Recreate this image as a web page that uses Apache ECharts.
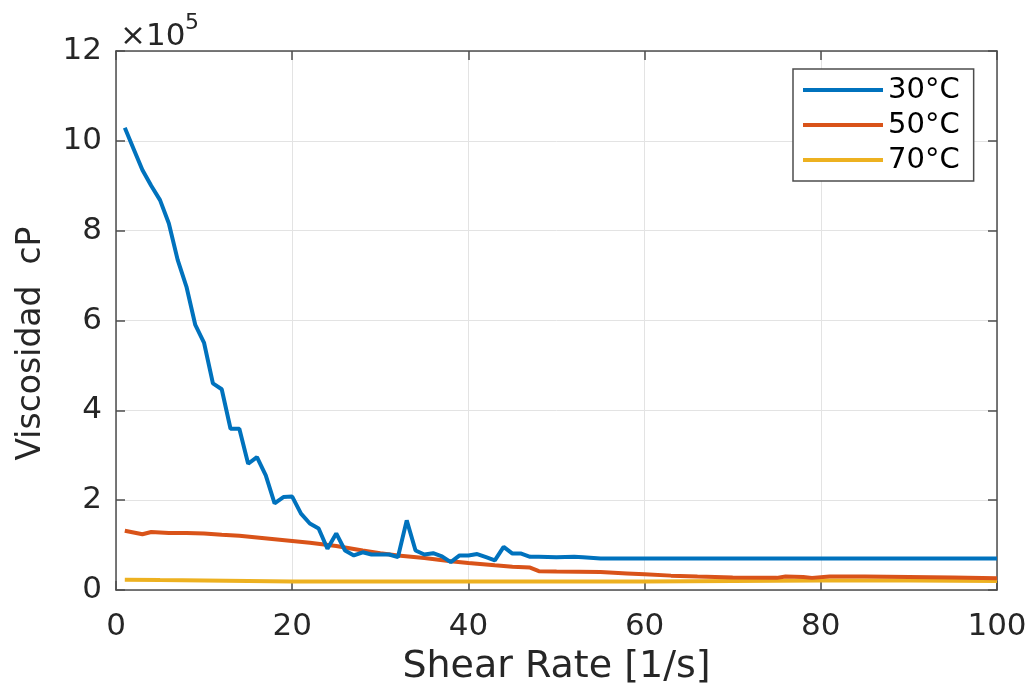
<!DOCTYPE html>
<html>
<head>
<meta charset="utf-8">
<script src="https://cdn.jsdelivr.net/npm/echarts@6/dist/echarts.min.js"></script>
<style>
html,body{margin:0;padding:0;background:#fff;}
#chart{width:1029px;height:685px;}
</style>
</head>
<body>
<div id="chart"></div>
<script>
// Values in units of 10^5 cP
var seriesNames = ['30°C', '50°C', '70°C'];
var x30 = [1,2,3,4,5,6,7,8,9,10,11,12,13,14,15,16,17,18,19,20,21,22,23,24,25,26,27,28,29,30,31,32,33,34,35,36,37,38,39,40,41,42,43,44,45,46,47,48,50,52,53,55,60,70,80,90,100];
var y30 = [10.29,9.82,9.35,9.0,8.68,8.16,7.35,6.75,5.90,5.50,4.60,4.47,3.59,3.59,2.81,2.96,2.55,1.93,2.07,2.08,1.70,1.48,1.37,0.92,1.26,0.88,0.77,0.84,0.79,0.79,0.79,0.73,1.55,0.88,0.79,0.82,0.75,0.62,0.77,0.77,0.80,0.73,0.66,0.96,0.81,0.81,0.74,0.74,0.73,0.74,0.73,0.70,0.70,0.70,0.70,0.70,0.70];
var x50 = [1,3,4,6,8,10,12,14,16,18,20,22,25,28,30,32,35,38,40,43,45,47,48,50,55,58,60,63,66,70,75,76,78,79,81,85,90,95,100];
var y50 = [1.32,1.24,1.29,1.27,1.27,1.26,1.23,1.21,1.17,1.13,1.09,1.05,0.98,0.88,0.82,0.77,0.71,0.64,0.60,0.55,0.52,0.50,0.42,0.41,0.40,0.37,0.35,0.32,0.30,0.28,0.27,0.30,0.29,0.27,0.30,0.30,0.29,0.28,0.26];
var x70 = [1,5,10,20,30,40,50,60,70,80,90,100];
var y70 = [0.23,0.22,0.21,0.19,0.19,0.19,0.19,0.19,0.20,0.21,0.21,0.20];
var xTicks = [0,20,40,60,80,100];
var yTicks = [0,2,4,6,8,10,12];
var xLabel = 'Shear Rate [1/s]';
var yLabel = 'Viscosidad  cP';
var exponentText = '×10';
var exponentSup = '5';

function pairs(xs, ys){ return xs.map(function(x,i){ return [x, ys[i]]; }); }

var FONT = 'DejaVu Sans';
var TXT = '#262626';
var AX = '#4d4d4d';
var colors = ['#0072BD', '#D95319', '#EDB120'];

var chart = echarts.init(document.getElementById('chart'), null, {renderer:'canvas'});
var axisCommon = {
  type: 'value',
  axisLine: {show: true, onZero: false, lineStyle: {color: AX, width: 1.5}},
  axisTick: {show: true, inside: true, length: 9, lineStyle: {color: AX, width: 1.5}}
};
var option = {
  animation: false,
  backgroundColor: '#fff',
  color: colors,
  grid: {left: 116, right: 32, top: 51, bottom: 95, containLabel: false, outerBoundsMode: 'none'},
  legend: {
    orient: 'vertical',
    left: 793, top: 69,
    padding: [6, 14, 6, 10],
    itemGap: 5,
    itemWidth: 80, itemHeight: 4,
    backgroundColor: '#fff',
    borderColor: '#4d4d4d', borderWidth: 1.5,
    borderRadius: 0,
    textStyle: {fontFamily: FONT, fontSize: 29, color: '#000', lineHeight: 30},
    data: seriesNames.map(function(n){ return {name: n, icon: 'rect'}; })
  },
  xAxis: [
    Object.assign({}, axisCommon, {
      min: xTicks[0], max: xTicks[xTicks.length-1], interval: 20,
      position: 'bottom',
      axisLabel: {fontFamily: FONT, fontSize: 31, color: TXT, margin: 21},
      splitLine: {show: true, lineStyle: {color: '#e3e3e3', width: 1}},
      name: xLabel, nameLocation: 'middle', nameGap: 58,
      nameTextStyle: {fontFamily: FONT, fontSize: 38, color: TXT}
    }),
    Object.assign({}, axisCommon, {
      min: xTicks[0], max: xTicks[xTicks.length-1], interval: 20,
      position: 'top',
      axisLabel: {show: false},
      splitLine: {show: false}
    })
  ],
  yAxis: [
    Object.assign({}, axisCommon, {
      min: yTicks[0], max: yTicks[yTicks.length-1], interval: 2,
      position: 'left',
      axisLabel: {fontFamily: FONT, fontSize: 31, color: TXT, margin: 14},
      splitLine: {show: true, lineStyle: {color: '#e3e3e3', width: 1}},
      name: yLabel, nameLocation: 'middle', nameGap: 68, nameRotate: 90,
      nameTextStyle: {fontFamily: FONT, fontSize: 33, color: TXT, padding: [0, 46, 0, 0]}
    }),
    Object.assign({}, axisCommon, {
      min: yTicks[0], max: yTicks[yTicks.length-1], interval: 2,
      position: 'right',
      axisLabel: {show: false},
      splitLine: {show: false}
    })
  ],
  graphic: [
    {type: 'text', left: 120, top: 21, style: {text: exponentText, font: '31px "DejaVu Sans"', fill: TXT}},
    {type: 'text', left: 185, top: 12, style: {text: exponentSup, font: '22px "DejaVu Sans"', fill: TXT}}
  ],
  series: [
    {name: seriesNames[0], type: 'line', data: pairs(x30, y30), showSymbol: false, symbol: 'none', lineStyle: {width: 4}, z: 3},
    {name: seriesNames[1], type: 'line', data: pairs(x50, y50), showSymbol: false, symbol: 'none', lineStyle: {width: 4}, z: 2},
    {name: seriesNames[2], type: 'line', data: pairs(x70, y70), showSymbol: false, symbol: 'none', lineStyle: {width: 4}, z: 1}
  ]
};
chart.setOption(option);
</script>
</body>
</html>
